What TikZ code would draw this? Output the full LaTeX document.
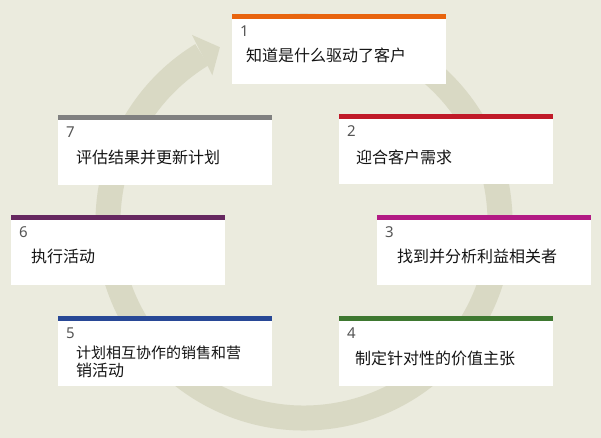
\documentclass[tikz,border=0pt]{standalone}
\usepackage{fontspec}
\newfontfamily\cjk{Noto Sans CJK SC}
\newfontfamily\numf{Noto Sans}
\definecolor{bgcol}{RGB}{235,235,222}
\definecolor{ringcol}{RGB}{217,217,196}
\definecolor{numcol}{RGB}{85,85,85}
\definecolor{txtcol}{RGB}{20,20,20}
\definecolor{c1}{RGB}{232,100,14}
\definecolor{c2}{RGB}{192,26,40}
\definecolor{c3}{RGB}{178,26,132}
\definecolor{c4}{RGB}{62,120,48}
\definecolor{c5}{RGB}{40,72,150}
\definecolor{c6}{RGB}{102,40,96}
\definecolor{c7}{RGB}{128,128,128}
\newcommand\stepbox[8]{%
  \node[box] (#1) at (#2,#3) {};
  \fill[#4] (#1.north west) rectangle ([yshift=-5pt]#1.north east);
  \node[num] (#1n) at ([xshift=8pt,yshift=-17pt]#1.north west) {#5};
  \node[lbl] (#1t) at ([xshift=#6pt,yshift=-#7pt]#1.north west) {#8};
}
\begin{document}
\begin{tikzpicture}[x=1pt,y=1pt,
  box/.style={fill=white, minimum width=214pt, minimum height=70pt, inner sep=0pt, anchor=north west},
  num/.style={font=\numf\fontsize{15}{17}\selectfont, text=numcol, anchor=west, inner sep=0pt},
  lbl/.style={font=\cjk\fontsize{16}{18}\selectfont, text=txtcol, anchor=west, inner sep=0pt, align=left}]
\fill[bgcol] (0,0) rectangle (601,438);
\useasboundingbox (0,0) rectangle (601,438);
\coordinate (c) at (304,216);
\draw[ringcol, line width=25pt] ([shift={(100:196)}]c) arc[start angle=100, end angle=-238.6, radius=196];
\fill[ringcol] ([shift={(120.9:218)}]c) -- ([shift={(115.7:194)}]c) -- ([shift={(122:173)}]c) -- cycle;
\stepbox{b1}{232}{424}{c1}{1}{14}{41}{知道是什么驱动了客户}
\stepbox{b2}{339}{324}{c2}{2}{17}{43}{迎合客户需求}
\stepbox{b3}{377}{223}{c3}{3}{20}{41}{找到并分析利益相关者}
\stepbox{b4}{339}{122}{c4}{4}{16}{42}{制定针对性的价值主张}
\stepbox{b5}{58}{122}{c5}{5}{18}{46}{\fontsize{15}{18}\selectfont 计划相互协作的销售和营\\销活动}
\stepbox{b6}{11}{223}{c6}{6}{20}{41}{执行活动}
\stepbox{b7}{58}{323}{c7}{7}{18}{42}{评估结果并更新计划}
\end{tikzpicture}
\end{document}
